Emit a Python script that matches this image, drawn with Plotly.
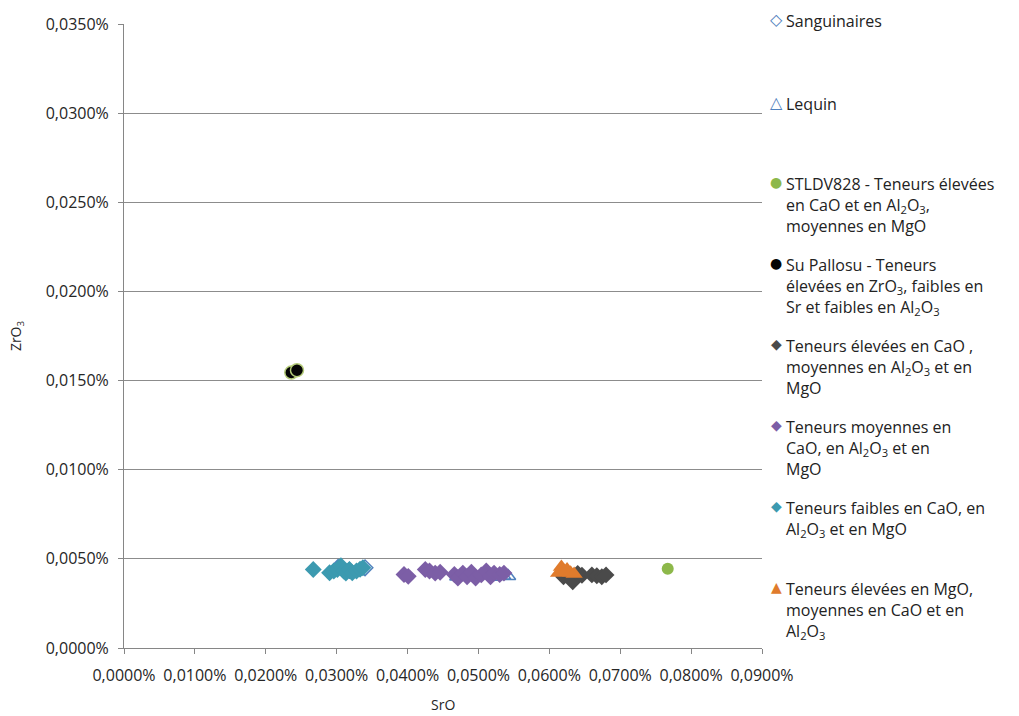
import plotly.graph_objects as go

# Values in fraction units (0.000267 = 0,0267%)
sang_x = [0.000302, 0.000318, 0.000340]
sang_y = [0.0000452, 0.0000435, 0.0000450]

lequin_x = [0.000470, 0.000522, 0.000535, 0.000542]
lequin_y = [0.0000400, 0.0000398, 0.0000405, 0.0000402]

stldv_x = [0.000767]
stldv_y = [0.0000445]

pallosu_x = [0.000236, 0.000244]
pallosu_y = [0.0001545, 0.0001558]

high_cao_x = [0.000620, 0.000627, 0.000633, 0.000640, 0.000646, 0.000660, 0.000667, 0.000674, 0.000680]
high_cao_y = [0.0000400, 0.0000412, 0.0000372, 0.0000418, 0.0000408, 0.0000410, 0.0000405, 0.0000400, 0.0000410]

mid_x = [0.000395, 0.000401, 0.000425, 0.000431, 0.000439, 0.000446, 0.000466, 0.000471, 0.000478,
         0.000484, 0.000490, 0.000496, 0.000504, 0.000511, 0.000517, 0.000522, 0.000530, 0.000536]
mid_y = [0.0000412, 0.0000402, 0.0000440, 0.0000432, 0.0000420, 0.0000425, 0.0000412, 0.0000392, 0.0000420,
         0.0000400, 0.0000425, 0.0000392, 0.0000410, 0.0000432, 0.0000400, 0.0000420, 0.0000412, 0.0000420]

low_x = [0.000267, 0.000290, 0.000296, 0.000301, 0.000306, 0.000310, 0.000313, 0.000318, 0.000322, 0.000328, 0.000333, 0.000337]
low_y = [0.0000440, 0.0000422, 0.0000432, 0.0000440, 0.0000462, 0.0000432, 0.0000420, 0.0000440, 0.0000422, 0.0000432, 0.0000442, 0.0000450]

mgo_x = [0.000613, 0.000617, 0.000621, 0.000625, 0.000630, 0.000635]
mgo_y = [0.0000420, 0.0000455, 0.0000432, 0.0000440, 0.0000422, 0.0000415]

x_title = "SrO"
y_title = "ZrO<sub>3</sub>"

names = [
    "Sanguinaires",
    "Lequin",
    "STLDV828 - Teneurs élevées<br>en CaO et en Al<sub>2</sub>O<sub>3</sub>,<br>moyennes en MgO",
    "Su Pallosu - Teneurs<br>élevées en ZrO<sub>3</sub>, faibles en<br>Sr et faibles en Al<sub>2</sub>O<sub>3</sub>",
    "Teneurs élevées en CaO ,<br>moyennes en Al<sub>2</sub>O<sub>3</sub> et en<br>MgO",
    "Teneurs moyennes en<br>CaO, en Al<sub>2</sub>O<sub>3</sub> et en<br>MgO",
    "Teneurs faibles en CaO, en<br>Al<sub>2</sub>O<sub>3</sub> et en MgO",
    "Teneurs élevées en MgO,<br>moyennes en CaO et en<br>Al<sub>2</sub>O<sub>3</sub>",
]
legend_glyphs = ["◇", "△", "●", "●", "◆", "◆", "◆", "▲"]
glyph_colors = ["#4F81BD", "#4F81BD", "#8DB84A", "#050505", "#4A4A4A", "#7C5EA6", "#3C9AB0", "#E07B2C"]

specs = [
    dict(symbol="diamond-open", size=12, color="#4F81BD", line=dict(width=1.5, color="#4F81BD")),
    dict(symbol="triangle-up-open", size=13, color="#4F81BD", line=dict(width=1.5, color="#4F81BD")),
    dict(symbol="circle", size=12, color="#8DB84A", line=dict(width=0)),
    dict(symbol="circle", size=13, color="#050505", line=dict(width=1.5, color="#B5CC7A")),
    dict(symbol="diamond", size=13, color="#4A4A4A", line=dict(width=0)),
    dict(symbol="diamond", size=13, color="#7C5EA6", line=dict(width=0)),
    dict(symbol="diamond", size=13, color="#3C9AB0", line=dict(width=0)),
    dict(symbol="triangle-up", size=15, color="#E07B2C", line=dict(width=0)),
]
xs = [sang_x, lequin_x, stldv_x, pallosu_x, high_cao_x, mid_x, low_x, mgo_x]
ys = [sang_y, lequin_y, stldv_y, pallosu_y, high_cao_y, mid_y, low_y, mgo_y]

fig = go.Figure()
for x, y, m, n in zip(xs, ys, specs, names):
    fig.add_trace(go.Scatter(x=x, y=y, mode="markers", name=n, marker=m, showlegend=False))

# Body margin is removed (post_script); plot area spans page x 124..762, y 24..648
W, H = 1019, 716
L, R, T, B = 124, 1019 - 762, 24, 716 - 648
plot_w = W - L - R
plot_h = H - T - B

# Legend (manual, Excel-style uniform spacing)
first_line_centers = [19, 102, 182, 263, 344, 425, 506, 587]  # page px
annotations = []
for nm, g, c, yc in zip(names, legend_glyphs, glyph_colors, first_line_centers):
    ytop = 1 - (yc - T - 11) / plot_h
    annotations.append(dict(xref="paper", yref="paper", x=(784 - L) / plot_w, y=ytop,
                            xanchor="left", yanchor="top", align="left", showarrow=False,
                            text=nm, font=dict(family="Open Sans", size=16, color="#222222")))
    gsize = 16 if g in ("◇", "△") else 14
    annotations.append(dict(xref="paper", yref="paper", x=(776 - L) / plot_w,
                            y=1 - (yc - T) / plot_h,
                            xanchor="center", yanchor="middle", showarrow=False,
                            text=g, font=dict(family="DejaVu Sans", size=gsize, color=c)))

# X axis title placed like the reference (page y ~705)
annotations.append(dict(xref="paper", yref="paper", x=0.5, y=-(705 - 648) / plot_h,
                        xanchor="center", yanchor="middle", showarrow=False,
                        text=x_title, font=dict(family="Open Sans", size=14, color="#262626")))

tickfont = dict(family="Open Sans", size=16, color="#262626")
fig.update_layout(
    width=W, height=H,
    margin=dict(l=L, r=R, t=T, b=B, autoexpand=False),
    plot_bgcolor="white", paper_bgcolor="white",
    separators=", ",
    showlegend=False,
    annotations=annotations,
    xaxis=dict(range=[0, 0.0009], dtick=0.0001, tick0=0, tickformat=".4%",
               showgrid=False, zeroline=False, showline=True, linecolor="#868686",
               ticks="outside", ticklen=5, tickcolor="#868686", tickfont=tickfont,
               ticklabelstandoff=8),
    yaxis=dict(range=[0, 0.00035], dtick=0.00005, tick0=0, tickformat=".4%",
               showgrid=True, gridcolor="#8C8C8C", gridwidth=1.2, zeroline=False,
               showline=True, linecolor="#868686",
               ticks="outside", ticklen=5, tickcolor="#868686", tickfont=tickfont,
               ticklabelstandoff=6,
               title=dict(text=y_title, font=dict(family="Open Sans", size=14, color="#262626"), standoff=20)),
)
fig.write_html("out.html", config={"displayModeBar": False},
               post_script="document.body.style.margin='0px';document.body.style.overflow='hidden';")
